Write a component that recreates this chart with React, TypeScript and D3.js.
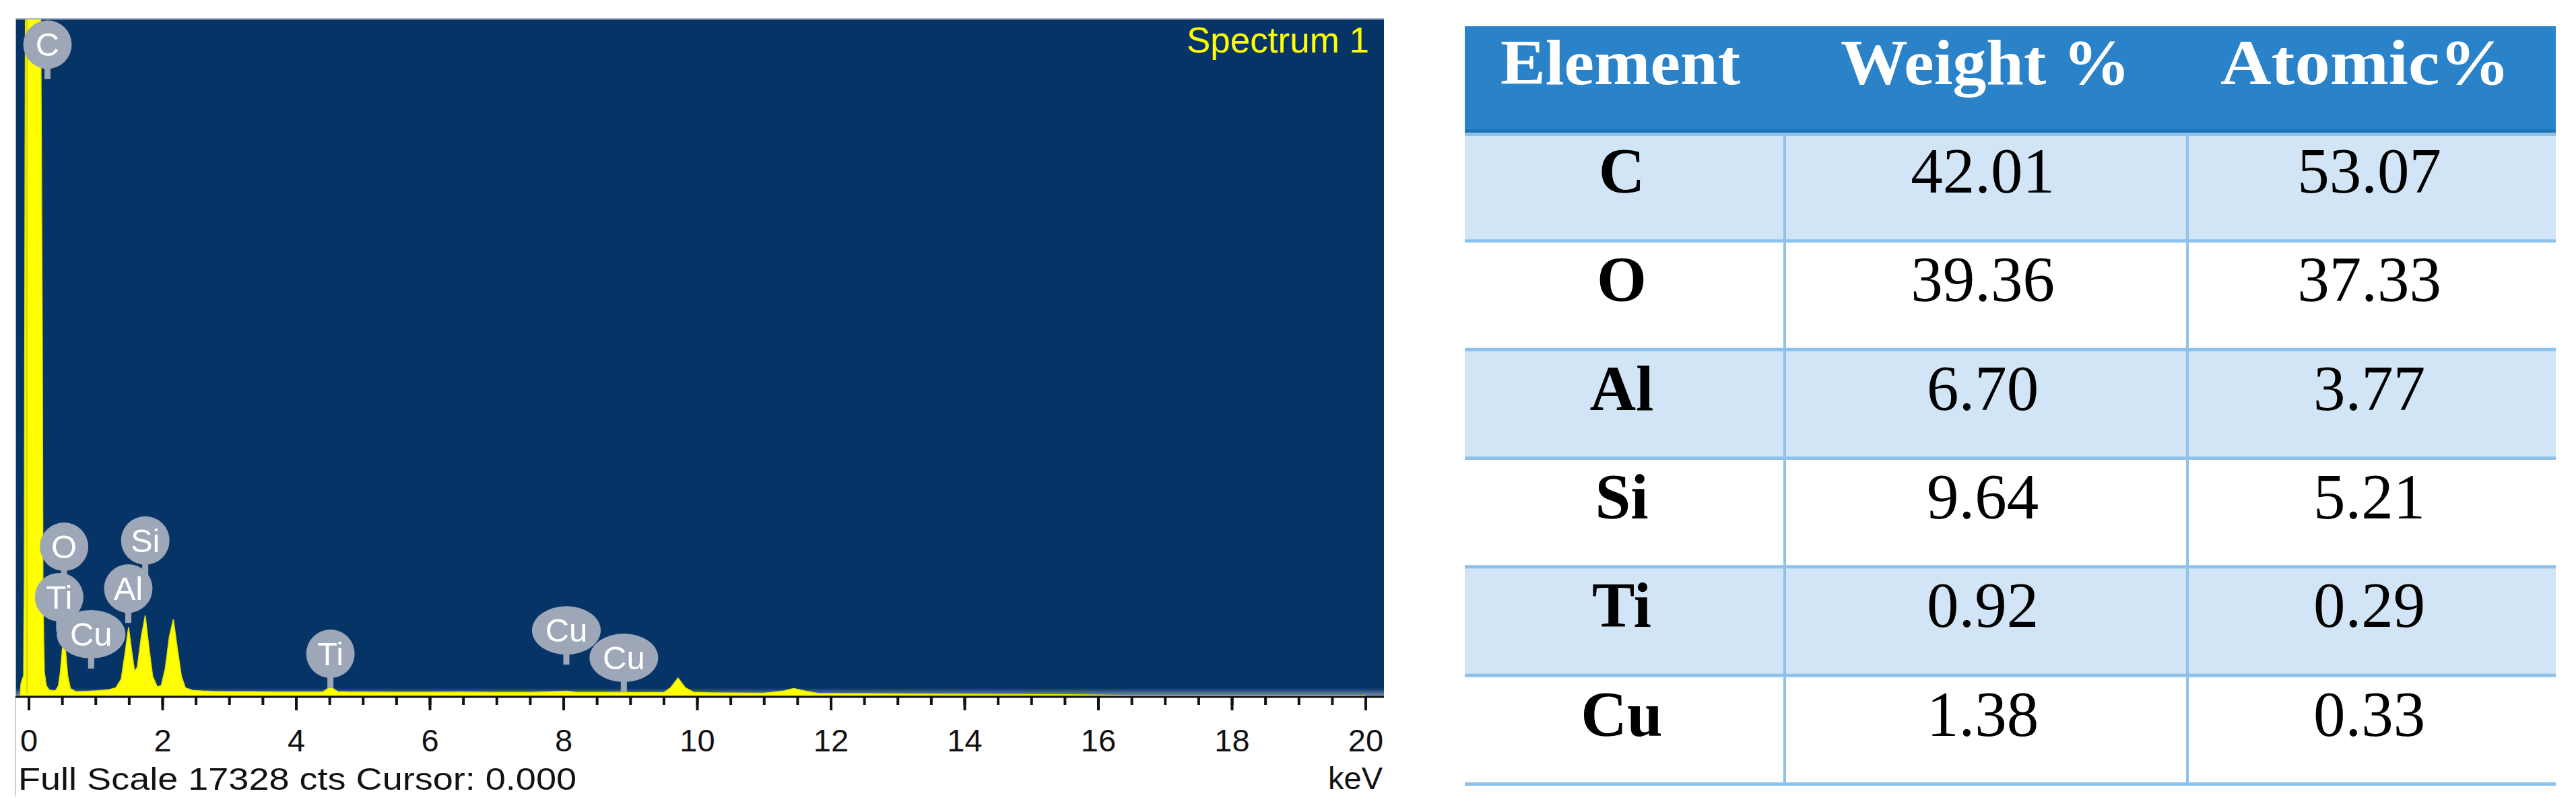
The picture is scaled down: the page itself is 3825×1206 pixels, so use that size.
import React from "react";
import * as d3 from "d3";

// ---------- Spectrum data (keV, counts) ----------
const energies = [
  -0.13, -0.12, -0.1, -0.08, -0.07, -0.06, -0.05, 0.0, 0.05, 0.1, 0.15, 0.18, 0.2, 0.21, 0.23, 0.26,
  0.3, 0.35, 0.4, 0.44, 0.47, 0.5, 0.525, 0.55, 0.58, 0.62, 0.7, 0.8, 0.9, 1.0, 1.1, 1.2, 1.3, 1.38,
  1.44, 1.49, 1.54, 1.58, 1.62, 1.68, 1.74, 1.79, 1.85, 1.92, 1.98, 2.04, 2.1, 2.16, 2.22, 2.28, 2.34,
  2.45, 2.6, 2.8, 3.0, 3.3, 3.5, 3.8, 4.0, 4.2, 4.4, 4.51, 4.62, 4.8, 5.0, 5.5, 6.0, 6.5, 7.0, 7.5,
  8.04, 8.2, 8.6, 8.9, 9.0, 9.3, 9.5, 9.6, 9.71, 9.82, 9.95, 10.2, 10.5, 11.0, 11.3, 11.44, 11.6,
  11.8, 12.2, 12.5, 13.0, 13.5, 14.0, 14.5, 15.0, 15.5, 16.0, 16.3, 16.5, 20.0,
];
const counts = [
  0, 300, 420, 500, 3000, 12000, 20000, 30000, 30000, 30000, 25000, 16000, 9000, 2500, 600, 250,
  150, 120, 130, 250, 600, 1200, 1400, 1100, 500, 180, 100, 105, 110, 120, 135, 150, 200, 420,
  1100, 1750, 1100, 620, 720, 1500, 2050, 1300, 500, 220, 260, 700, 1500, 1950, 1200, 500, 200,
  130, 115, 105, 100, 98, 95, 92, 90, 92, 95, 220, 100, 92, 90, 88, 85, 90, 80, 82,
  110, 80, 84, 86, 75, 78, 80, 200, 450, 200, 80, 70, 65, 60, 120, 180, 120,
  55, 52, 50, 45, 40, 35, 30, 25, 20, 12, 6, 0, 0,
];

const xTicksMajor = [0, 2, 4, 6, 8, 10, 12, 14, 16, 18, 20];
const xTicksMinor = d3.range(0, 20.01, 0.5);
const FULL_SCALE = 17328;

// peak labels: element, line energy (keV), stem tip height (counts)
const labelNames = ["C", "O", "Si", "Ti", "Al", "Cu", "Ti", "Cu", "Cu"];
const labelEnergies = [0.277, 0.525, 1.74, 0.452, 1.486, 0.93, 4.51, 8.04, 8.9];
const labelCounts = [15790, 2930, 3090, 1640, 1860, 690, 190, 790, 86];

// ---------- Table data ----------
const headers = ["Element", "Weight %", "Atomic%"];
const elements = ["C", "O", "Al", "Si", "Ti", "Cu"];
const weightPct = ["42.01", "39.36", "6.70", "9.64", "0.92", "1.38"];
const atomicPct = ["53.07", "37.33", "3.77", "5.21", "0.29", "0.33"];

export default function App() {
  const W = 3825;
  const H = 1206;

  // spectrum panel geometry
  const pL = 23, pR = 2055, pT = 28, pB = 1034;
  const x = d3.scaleLinear().domain([0, 20]).range([43, 2028]);
  const y = d3.scaleLinear().domain([0, FULL_SCALE]).range([1033, pT]);

  const pts = energies.map((e, i) => ({ e, c: counts[i] }));
  const area = d3
    .area<{ e: number; c: number }>()
    .x((d) => x(d.e))
    .y0(y(0))
    .y1((d) => y(d.c))
    .curve(d3.curveLinear);

  const sans = "'Liberation Sans', Arial, sans-serif";
  const serif = "'Liberation Serif', 'Times New Roman', serif";

  // table geometry
  const tL = 2175, tR = 3795, tT = 39, hB = 197, tB = 1165;
  const colEdges = [tL, 2650, 3248, tR];
  const headerCenters = [2406, 2948, 3512];
  const headerWidths = [356, 430, 430];
  const colCenters = [2408, 2944, 3518];
  const rowScale = d3.scaleBand<number>().domain(d3.range(elements.length)).range([hB, tB]);
  const rh = rowScale.bandwidth();

  return (
    <div style={{ position: "absolute", left: 0, top: 0 }}>
      <svg width={W} height={H} viewBox={`0 0 ${W} ${H}`} style={{ display: "block", background: "#fff" }}>
        <defs>
          <clipPath id="plotClip">
            <rect x={pL} y={pT} width={pR - pL} height={pB - pT} />
          </clipPath>
          <linearGradient id="bottomBand" x1="0" y1="0" x2="0" y2="1">
            <stop offset="0" stopColor="#073467" />
            <stop offset="1" stopColor="#7c93b3" />
          </linearGradient>
        </defs>

        {/* ---------- Spectrum panel ---------- */}
        <rect x={pL} y={pT} width={pR - pL} height={pB - pT} fill="#073467" />
        <rect x={pL} y={1022} width={pR - pL} height={pB - 1022} fill="url(#bottomBand)" />
        <g clipPath="url(#plotClip)">
          <path d={area(pts) || ""} fill="#ffff00" stroke="#e4e400" strokeWidth={1.5} />
          <line x1={x(0) - 3} x2={x(0) - 3} y1={pT} y2={1030} stroke="#c8c800" strokeWidth={3} opacity={0.6} />
        </g>
        {/* borders */}
        <line x1={pL} x2={pR} y1={pT} y2={pT} stroke="#a8b6ca" strokeWidth={2} />
        <line x1={pL} x2={pL} y1={pT} y2={1183} stroke="#c9d0da" strokeWidth={2} />

        {/* peak labels */}
        {labelNames.map((name, i) => {
          const cx = x(labelEnergies[i]);
          const tip = y(labelCounts[i]);
          const ry = 36;
          const rx = name === "Cu" ? 51 : 36;
          const cy = tip - 15 - ry;
          return (
            <g key={i}>
              <rect x={cx - 4.5} y={cy + ry - 3} width={9} height={tip - (cy + ry - 3)} fill="#9da7b8" />
              <ellipse cx={cx} cy={cy} rx={rx} ry={ry} fill="#9da7b8" />
              <text x={cx} y={cy + 17} textAnchor="middle" fontFamily={sans} fontSize={49} fill="#ffffff">
                {name}
              </text>
            </g>
          );
        })}

        <text x={2033} y={78} textAnchor="end" fontFamily={sans} fontSize={53} fill="#ffff00">
          Spectrum 1
        </text>

        {/* x axis */}
        <line x1={pL} x2={pR} y1={1035} y2={1035} stroke="#111" strokeWidth={3} />
        {xTicksMinor.map((t) => (
          <line key={"m" + t} x1={x(t)} x2={x(t)} y1={1035} y2={1047} stroke="#111" strokeWidth={4} />
        ))}
        {xTicksMajor.map((t) => (
          <g key={"M" + t}>
            <line x1={x(t)} x2={x(t)} y1={1035} y2={1055} stroke="#111" strokeWidth={4} />
            <text x={x(t)} y={1116} textAnchor="middle" fontFamily={sans} fontSize={47} fill="#111">
              {t}
            </text>
          </g>
        ))}
        <text
          x={27}
          y={1173}
          fontFamily={sans}
          fontSize={47}
          fill="#111"
          textLength={829}
          lengthAdjust="spacingAndGlyphs"
        >
          Full Scale 17328 cts Cursor: 0.000
        </text>
        <text x={2053} y={1172} textAnchor="end" fontFamily={sans} fontSize={47} fill="#111">
          keV
        </text>

        {/* ---------- Table ---------- */}
        <rect x={tL} y={tT} width={tR - tL} height={hB - tT} fill="#2a82c8" />
        <rect x={tL} y={hB - 5} width={tR - tL} height={5} fill="#1e72b6" />
        {elements.map((el, i) => {
          const top = rowScale(i) as number;
          return (
            <rect key={"bg" + el} x={tL} y={top} width={tR - tL} height={rh} fill={i % 2 === 0 ? "#d1e5f6" : "#ffffff"} />
          );
        })}
        {d3.range(elements.length + 1).map((i) => {
          const yy = hB + i * rh;
          return <rect key={"sep" + i} x={tL} y={yy - (i === 0 ? 0 : 3)} width={tR - tL} height={5} fill="#8ec2ea" />;
        })}
        {colEdges.slice(1, 3).map((cx, i) => (
          <rect key={"cd" + i} x={cx - 2} y={hB} width={4} height={tB - hB} fill="#8ec2ea" />
        ))}
        {headers.map((h, i) => (
          <text
            key={h}
            x={headerCenters[i]}
            y={125}
            textAnchor="middle"
            fontFamily={serif}
            fontWeight="bold"
            fontSize={96}
            fill="#ffffff"
            textLength={headerWidths[i]}
            lengthAdjust="spacingAndGlyphs"
          >
            {h}
          </text>
        ))}
        {elements.map((el, i) => {
          const top = rowScale(i) as number;
          const by = top + 89;
          return (
            <g key={"row" + el}>
              <text x={colCenters[0]} y={by} textAnchor="middle" fontFamily={serif} fontWeight="bold" fontSize={95} fill="#000">
                {el}
              </text>
              <text x={colCenters[1]} y={by} textAnchor="middle" fontFamily={serif} fontSize={95} fill="#000">
                {weightPct[i]}
              </text>
              <text x={colCenters[2]} y={by} textAnchor="middle" fontFamily={serif} fontSize={95} fill="#000">
                {atomicPct[i]}
              </text>
            </g>
          );
        })}
      </svg>
    </div>
  );
}
